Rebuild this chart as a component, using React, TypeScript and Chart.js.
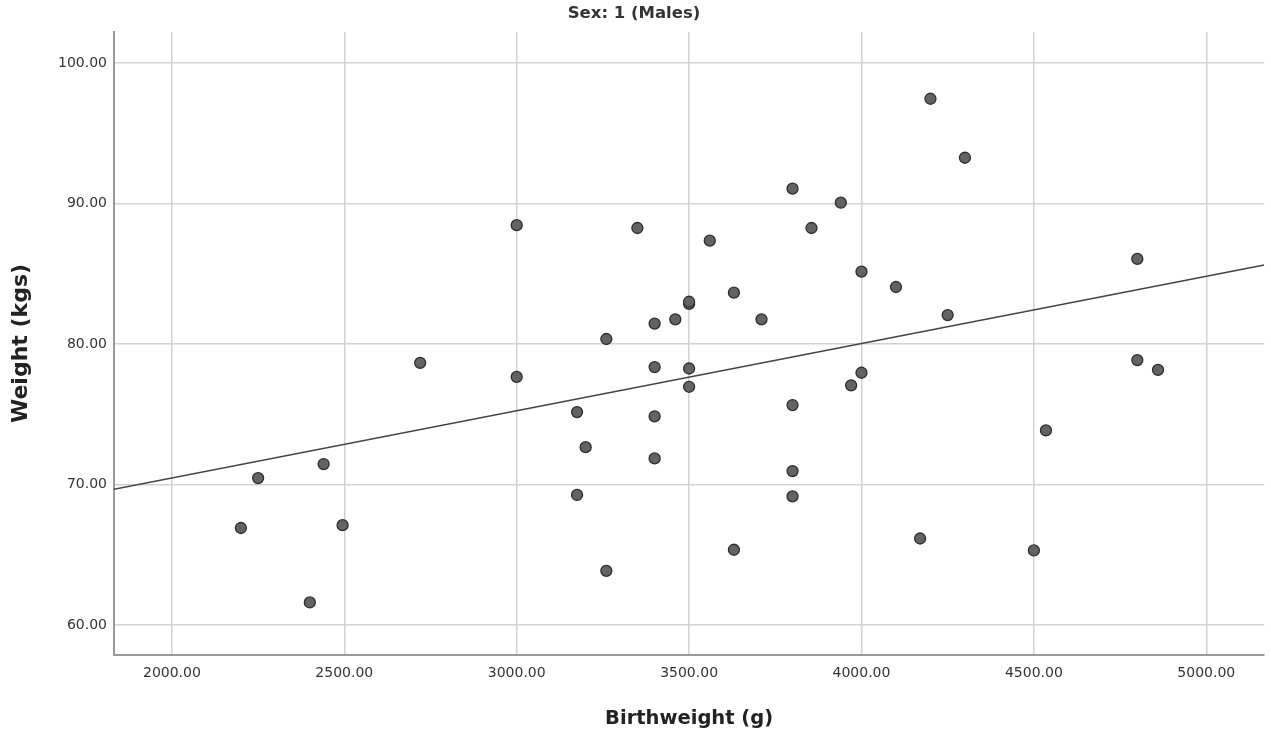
import React, { useEffect, useRef } from "react";
import { Chart, registerables } from "chart.js";

Chart.register(...registerables);

const birthweight = [
  2200, 2250, 2400, 2440, 2495, 2720, 3000, 3000, 3175, 3175, 3200, 3260, 3260,
  3350, 3400, 3400, 3400, 3400, 3460, 3500, 3500, 3500, 3500, 3560, 3630, 3630,
  3710, 3800, 3800, 3800, 3800, 3855, 3940, 3970, 4000, 4000, 4100, 4170, 4200,
  4250, 4300, 4500, 4535, 4800, 4800, 4860,
];
const weightKgs = [
  66.9, 70.45, 61.6, 71.45, 67.1, 78.65, 88.45, 77.65, 75.15, 69.25, 72.65, 80.35, 63.85,
  88.25, 81.45, 78.35, 74.85, 71.85, 81.75, 82.85, 83.0, 78.25, 76.95, 87.35, 83.65, 65.35,
  81.75, 91.05, 75.65, 70.95, 69.15, 88.25, 90.05, 77.05, 85.15, 77.95, 84.05, 66.15, 97.45,
  82.05, 93.25, 65.3, 73.85, 86.05, 78.85, 78.15,
];
const fitLineX = [1832, 5168];
const fitLineY = [69.66, 85.62];
const xTickValues = [2000, 2500, 3000, 3500, 4000, 4500, 5000];
const yTickValues = [60, 70, 80, 90, 100];
const titleText = "Sex: 1 (Males)";
const xTitle = "Birthweight (g)";
const yTitle = "Weight (kgs)";

export default function App() {
  const ref = useRef<HTMLCanvasElement | null>(null);

  useEffect(() => {
    if (!ref.current) return;
    const points = birthweight.map((x, i) => ({ x, y: weightKgs[i] }));
    const fit = fitLineX.map((x, i) => ({ x, y: fitLineY[i] }));
    const chart = new Chart(ref.current, {
      type: "scatter",
      data: {
        datasets: [
          {
            type: "line",
            data: fit,
            borderColor: "#444444",
            borderWidth: 1.5,
            pointRadius: 0,
            fill: false,
            order: 2,
          } as any,
          {
            data: points,
            backgroundColor: "#636363",
            borderColor: "#2e2e2e",
            borderWidth: 1.3,
            pointRadius: 5.5,
            order: 1,
          },
        ],
      },
      options: {
        animation: false,
        responsive: false,
        maintainAspectRatio: false,
        layout: { padding: { left: 0, right: 3, top: 0, bottom: 0 } },
        plugins: {
          legend: { display: false },
          tooltip: { enabled: false },
          title: {
            display: true,
            text: titleText,
            color: "#333333",
            font: { family: "DejaVu Sans", size: 16.5, weight: "bold" },
            padding: { top: 4, bottom: 8.2 },
          },
        },
        scales: {
          x: {
            type: "linear",
            min: 1832,
            max: 5168,
            afterBuildTicks: (s: any) => {
              s.ticks = xTickValues.map((v) => ({ value: v }));
            },
            afterFit: (s: any) => {
              s.height = 79;
              s.paddingLeft = 0;
              s.paddingRight = 0;
            },
            grid: { color: "#d2d2d2", lineWidth: 1.5, drawTicks: false },
            border: { display: true, color: "#999999", width: 2 },
            ticks: {
              color: "#333333",
              font: { family: "DejaVu Sans", size: 14 },
              padding: 10,
              maxRotation: 0,
              callback: (v: any) => Number(v).toFixed(2),
            },
            title: {
              display: true,
              text: xTitle,
              color: "#222222",
              font: { family: "DejaVu Sans", size: 19.5, weight: "bold" },
              padding: { top: 0, bottom: 3 },
            },
          },
          y: {
            type: "linear",
            min: 57.86,
            max: 102.2,
            afterBuildTicks: (s: any) => {
              s.ticks = yTickValues.map((v) => ({ value: v }));
            },
            afterFit: (s: any) => {
              s.width = 114;
              s.paddingTop = 0;
              s.paddingBottom = 0;
            },
            grid: { color: "#d2d2d2", lineWidth: 1.5, drawTicks: false },
            border: { display: true, color: "#999999", width: 2 },
            ticks: {
              color: "#333333",
              font: { family: "DejaVu Sans", size: 14 },
              padding: 7,
              callback: (v: any) => Number(v).toFixed(2),
            },
            title: {
              display: true,
              text: yTitle,
              color: "#222222",
              font: { family: "DejaVu Sans", size: 22, weight: "bold" },
              padding: { top: 8, bottom: 0 },
            },
          },
        },
      },
    });
    return () => chart.destroy();
  }, []);

  return (
    <div style={{ position: "fixed", left: 0, top: 0, width: 1271, height: 734, background: "#ffffff" }}>
      <canvas ref={ref} width={1271} height={734} style={{ display: "block", width: 1271, height: 734 }} />
    </div>
  );
}
